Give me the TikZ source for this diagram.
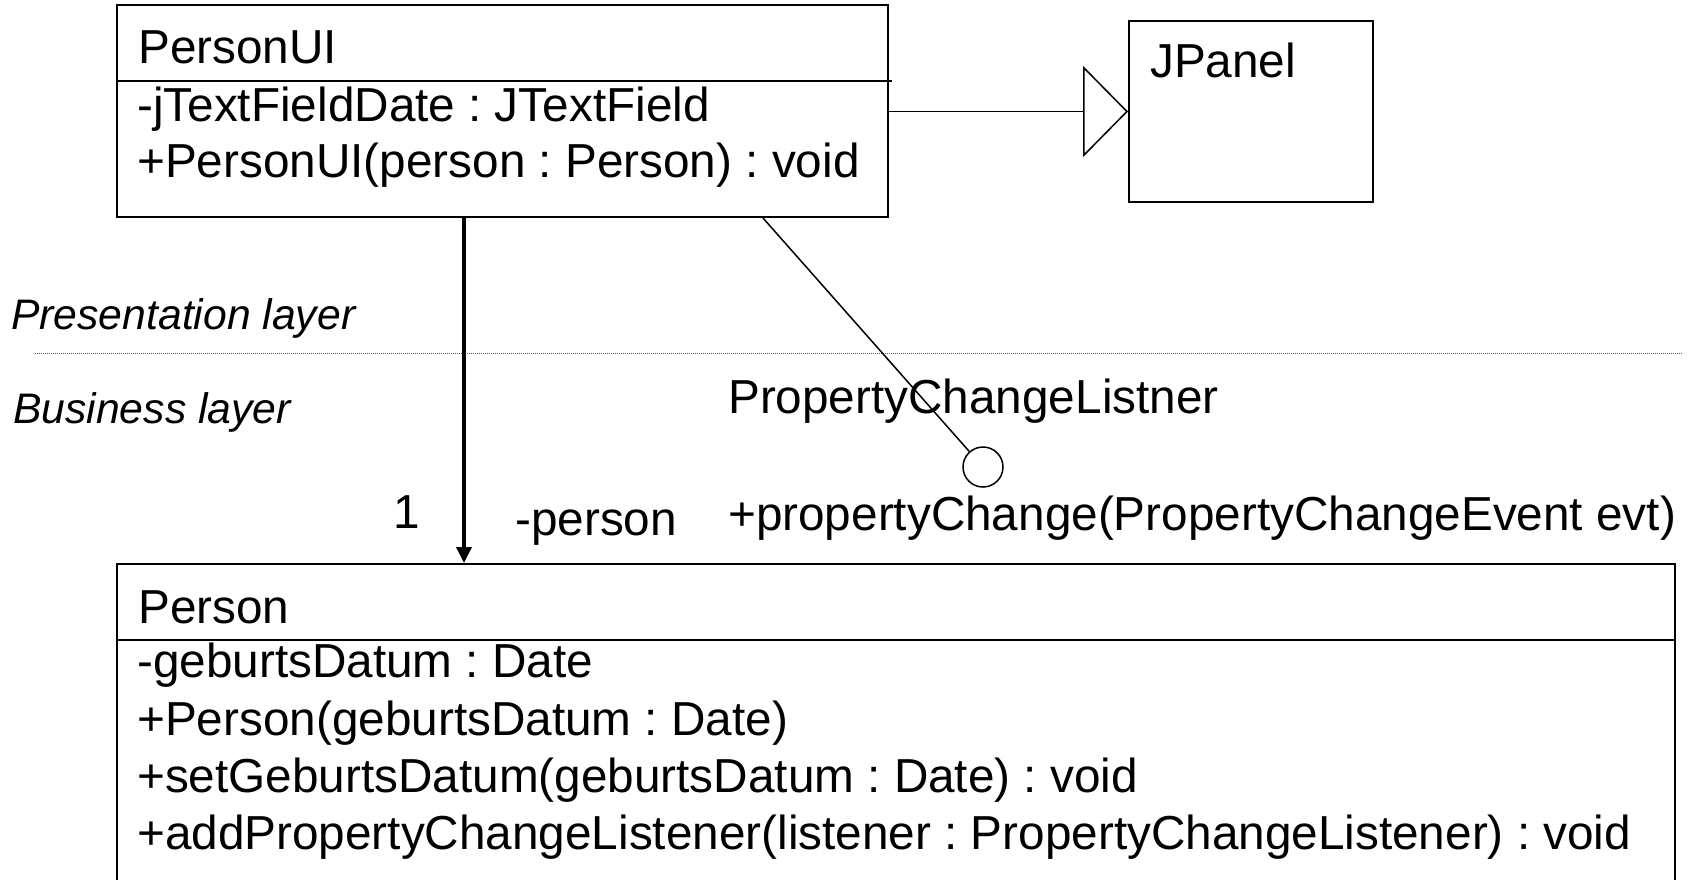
\documentclass[tikz,border=0pt]{standalone}
\usepackage{fontspec}
\setmainfont{Liberation Sans}
\usetikzlibrary{arrows.meta}
\frenchspacing
\begin{document}
\begin{tikzpicture}[x=1pt,y=-1pt,
  umlbox/.style={draw, line width=2pt, rectangle, inner sep=0pt},
  sepline/.style={line width=2pt},
  conn/.style={line width=1.5pt},
  txt/.style={anchor=base west, inner sep=0pt, font=\fontsize{47.7}{57}\selectfont},
  layer/.style={anchor=base west, inner sep=0pt, font=\fontsize{42.7}{50}\selectfont\itshape},
  layersep/.style={line width=1pt, gray!70!black, dash pattern=on 1pt off 1pt}]
\useasboundingbox (0,0) rectangle (1698,879);
\begin{scope}
\clip (0,0) rectangle (1698,879);

% class boxes
\node[umlbox, minimum width=771pt, minimum height=212pt] (personui) at (502.5,111) {};
\node[umlbox, minimum width=244pt, minimum height=181pt] (jpanel) at (1251,111.5) {};
\node[umlbox, minimum width=1558pt, minimum height=400pt] (person) at (896,764) {};

% compartment separators
\draw[sepline] (personui.west |- 0,81) -- (892,81);
\draw[sepline] (person.west |- 0,640) -- (person.east |- 0,640);

% PersonUI
\node[txt] (puiname) at (138,63) {PersonUI};
\node[txt] (puiattr) at (137,121) {-jTextFieldDate : JTextField};
\node[txt] (puiop) at (137,177) {+PersonUI(person : Person) : void};

% JPanel
\node[txt] (jpname) at (1150,77) {JPanel};

% Person
\node[txt] (pname) at (138,623) {Person};
\node[txt] (pattr) at (137,677) {-geburtsDatum : Date};
\node[txt] (pop1) at (137,735) {+Person(geburtsDatum : Date)};
\node[txt] (pop2) at (137,792) {+setGeburtsDatum(geburtsDatum : Date) : void};
\node[txt] (pop3) at (137,849) {+addPropertyChangeListener(listener : PropertyChangeListener) : void};

% layers
\node[layer] (presl) at (11,329) {Presentation layer};
\node[layer] (busl) at (13,423) {Business layer};
\coordinate (layerl) at (35,353);
\coordinate (layerr) at (1682,353);
\draw[layersep] (layerl) -- (layerr);

% provided interface
\node[draw, circle, conn, minimum size=40pt, inner sep=0pt] (lolli) at (983,467) {};
\node[txt] (ifname) at (728,413) {PropertyChangeListner};
\node[txt] (ifop) at (728,530) {+propertyChange(PropertyChangeEvent evt)};

% association end labels
\node[txt] (mult) at (393,528) {1};
\node[txt] (role) at (515,535) {-person};

% connectors
\coordinate (assocx) at (464,0);
\draw[line width=3.5pt, -{Triangle[length=16pt,width=15pt]}]
  (personui.south -| assocx) -- (person.north -| assocx);
\coordinate (lollix) at (763,0);
\draw[conn] (personui.south -| lollix) -- (lolli);
\draw[conn, -{Triangle[open, length=45pt, width=91pt]}]
  (personui.east |- jpanel.west) -- (jpanel.west);
\end{scope}
\end{tikzpicture}
\end{document}
